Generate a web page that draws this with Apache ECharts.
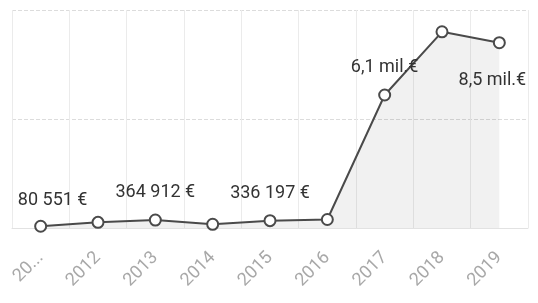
<!DOCTYPE html>
<html>
<head>
<meta charset="utf-8">
<script src="https://cdn.jsdelivr.net/npm/echarts@6/dist/echarts.min.js"></script>
<style>
  html, body { margin: 0; padding: 0; background: #fff; }
  #chart { width: 538px; height: 303px; }
</style>
</head>
<body>
<div id="chart"></div>
<script>
var years = ['2011', '2012', '2013', '2014', '2015', '2016', '2017', '2018', '2019'];
var values = [80551, 260000, 364912, 170000, 336197, 390000, 6100000, 9000000, 8500000];
// which points carry a value label, and where
var labelShown = [true, false, true, false, true, false, true, false, true];
var labelPos = ['top', 'top', 'top', 'top', 'top', 'top', 'top', 'top', 'bottom'];

function formatEur(v) {
  if (v >= 1000000) {
    return (v / 1000000).toFixed(1).replace('.', ',') + ' mil.€';
  }
  return String(Math.round(v)).replace(/\B(?=(\d{3})+(?!\d))/g, ' ') + ' €';
}

var chart = echarts.init(document.getElementById('chart'));

var points = values.map(function (v, i) {
  var item = { value: v };
  item.label = {
    show: labelShown[i],
    position: labelPos[i],
    distance: labelPos[i] === 'bottom' ? 22 : 12
  };
  if (i === 0) item.label.offset = [12, 2];
  if (i === values.length - 1) item.label.offset = [-7, 0];
  return item;
});

var option = {
  animation: false,
  grid: {
    left: 12,
    right: 10,
    top: 10,
    bottom: 75
  },
  xAxis: {
    type: 'category',
    data: years,
    boundaryGap: true,
    axisLine: { lineStyle: { color: '#e2e2e2' } },
    axisTick: { show: false },
    axisLabel: {
      rotate: 45,
      margin: 27,
      color: '#a8a8a8',
      fontFamily: 'Roboto',
      fontSize: 18,
      interval: 0,
      formatter: function (v, i) {
        return i === 0 ? v.slice(0, 2) + '...' : v;
      }
    },
    splitLine: {
      show: true,
      interval: 0,
      lineStyle: { color: '#ebebeb', type: 'solid' }
    }
  },
  yAxis: {
    type: 'value',
    min: 0,
    max: 10000000,
    interval: 5000000,
    axisLabel: { show: false },
    axisLine: { show: false },
    axisTick: { show: false },
    splitLine: {
      lineStyle: { color: '#dcdcdc', type: 'dashed' }
    }
  },
  series: [{
    type: 'line',
    data: points,
    symbol: 'circle',
    symbolSize: 11,
    showAllSymbol: true,
    lineStyle: { color: '#4a4a4a', width: 2 },
    itemStyle: { color: '#fff', borderColor: '#4a4a4a', borderWidth: 2 },
    areaStyle: { color: 'rgba(0,0,0,0.08)' },
    label: {
      color: '#333',
      fontFamily: 'Roboto',
      fontSize: 18,
      formatter: function (p) { return formatEur(p.value); }
    }
  }]
};

chart.setOption(option);
</script>
</body>
</html>
